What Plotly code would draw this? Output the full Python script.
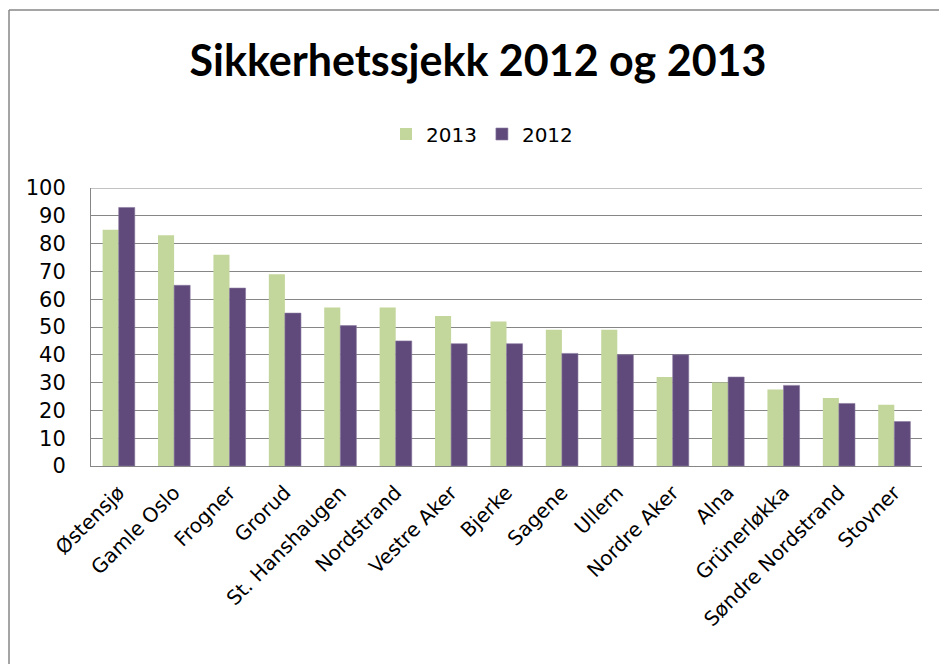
import plotly.graph_objects as go

# Bydeler (districts) and scores per year
districts = ["Østensjø", "Gamle Oslo", "Frogner", "Grorud", "St. Hanshaugen",
             "Nordstrand", "Vestre Aker", "Bjerke", "Sagene", "Ullern",
             "Nordre Aker", "Alna", "Grünerløkka", "Søndre Nordstrand", "Stovner"]
score_2013 = [85, 83, 76, 69, 57, 57, 54, 52, 49, 49, 32, 30, 27.5, 24.5, 22]
score_2012 = [93, 65, 64, 55, 50.5, 45, 44, 44, 40.5, 40, 40, 32, 29, 22.5, 16]
y_ticks = list(range(0, 101, 10))

W, H = 939, 664
ML, MR, MT, MB = 91, 17, 188, 198
plot_w = W - ML - MR
plot_h = H - MT - MB

def px_x(px):
    return (px - ML) / plot_w

def px_y(py):
    return (H - MB - py) / plot_h

FONT = "DejaVu Sans"
GRID = "#868686"
FRAME = "#878787"

fig = go.Figure()
fig.add_trace(go.Bar(x=districts, y=score_2013, name="2013",
                     marker=dict(color="#C3D69B", line=dict(width=0))))
fig.add_trace(go.Bar(x=districts, y=score_2012, name="2012",
                     marker=dict(color="#604A7B", line=dict(color="#8A78A0", width=0.6))))

fig.update_layout(
    width=W, height=H,
    margin=dict(l=ML, r=MR, t=MT, b=MB),
    paper_bgcolor="white", plot_bgcolor="white",
    barmode="group", bargap=0.42, bargroupgap=0,
    title=dict(text="<b>Sikkerhetssjekk 2012 og 2013</b>",
               font=dict(family="Lato", size=43, color="black"),
               x=478 / W, xanchor="center", xref="container",
               y=1 - 61 / H, yanchor="middle", yref="container"),
    legend=dict(orientation="h", x=px_x(482), xanchor="center",
                y=px_y(134), yanchor="middle",
                font=dict(family=FONT, size=20, color="black"),
                itemwidth=30, traceorder="normal"),
    showlegend=True,
    font=dict(family=FONT, color="black"),
)

fig.update_yaxes(range=[0, 100], tickvals=y_ticks, showgrid=True,
                 gridcolor=GRID, gridwidth=1, showline=True, linecolor=GRID,
                 linewidth=1, ticks="", tickfont=dict(family=FONT, size=21, color="black"),
                 ticklabelstandoff=20, zeroline=False)
fig.update_xaxes(showline=True, linecolor=GRID, linewidth=1, tickangle=-45,
                 tickfont=dict(family=FONT, size=20, color="black"), ticks="",
                 ticklabelstandoff=6, showgrid=False)

# gridline at the top of the value range
fig.add_shape(type="line", xref="paper", yref="y", x0=0, x1=1, y0=100, y1=100,
              line=dict(color=GRID, width=1), layer="below")

# outer chart frame: top and left edges
fig.add_shape(type="line", xref="paper", yref="paper",
              x0=px_x(9), x1=px_x(939), y0=px_y(10), y1=px_y(10),
              line=dict(color=FRAME, width=1.5))
fig.add_shape(type="line", xref="paper", yref="paper",
              x0=px_x(9), x1=px_x(9), y0=px_y(10), y1=px_y(664),
              line=dict(color=FRAME, width=1.5))

fig.write_html("out.html")
